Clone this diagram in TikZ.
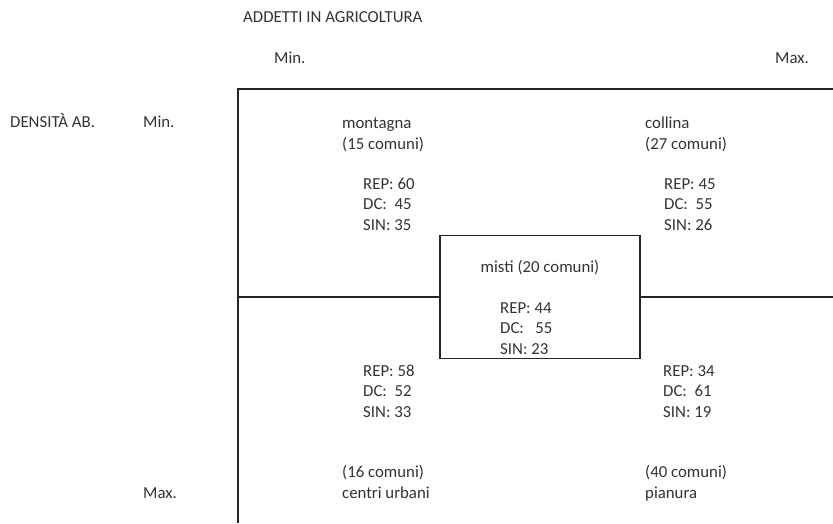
\documentclass[tikz,border=0pt]{standalone}
\usepackage{fontspec}
\setmainfont{Carlito}
\usepackage{tikz}
\usetikzlibrary{positioning}
\tikzstyle{txt}      = [inner sep=0pt, anchor=base west, align=left, text=black!80, font=\fontsize{16.8}{20.5}\selectfont]
\tikzstyle{axisline} = [line width=1.3pt, draw=black!85]
\tikzstyle{mixbox}   = [rectangle, draw=black!85, line width=1.3pt, minimum width=200pt, minimum height=123pt, inner sep=0pt]

\begin{document}
\begin{tikzpicture}[x=1pt, y=-1pt]
    \useasboundingbox (0,0) rectangle (833,523);
    % axes
    \coordinate (tl) at (238,89);
    \coordinate (tr) at (833,89);
    \coordinate (bl) at (238,523);
    \coordinate (ml) at (238,297);
    \coordinate (mr) at (833,297);
    \node (misti) [mixbox] at (540,297) {};
    \draw [axisline] (tr) -- (tl) -- (bl);
    \draw [axisline] (ml) -- (misti.west);
    \draw [axisline] (misti.east) -- (mr);

    % headings (base = last line)
    \node (addetti) [txt] at (243,22)  {ADDETTI IN AGRICOLTURA};
    \node (xmin)    [txt] at (274,63)  {Min.};
    \node (xmax)    [txt] at (775,63)  {Max.};
    \node (densita) [txt] at (10,127)  {DENSITÀ AB.};
    \node (ymin)    [txt] at (143,127) {Min.};
    \node (ymax)    [txt] at (143,498) {Max.};

    % quadrants
    \node (montagna) [txt] at (342,149) {montagna\\(15 comuni)};
    \node (collina)  [txt] at (645,149) {collina\\(27 comuni)};
    \node (urbani)   [txt] at (342,498) {(16 comuni)\\centri urbani};
    \node (pianura)  [txt] at (645,498) {(40 comuni)\\pianura};
    \node (mistilab) [txt, anchor=base] at (540,272) {misti (20 comuni)};

    % results
    \node (resmont) [txt] at (363,230) {REP: 60\\DC:\ \ 45\\SIN: 35};
    \node (rescoll) [txt] at (664,230) {REP: 45\\DC:\ \ 55\\SIN: 26};
    \node (resmist) [txt] at (500,354) {REP: 44\\DC:\ \ \ 55\\SIN: 23};
    \node (resurb)  [txt] at (363,417) {REP: 58\\DC:\ \ 52\\SIN: 33};
    \node (respian) [txt] at (663,417) {REP: 34\\DC:\ \ 61\\SIN: 19};
\end{tikzpicture}
\end{document}
